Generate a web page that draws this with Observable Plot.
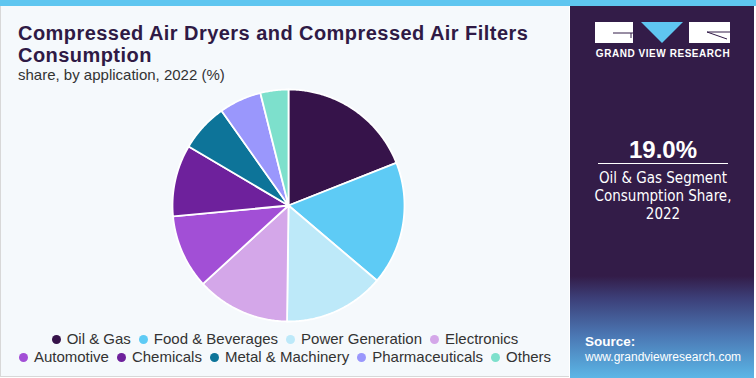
<!DOCTYPE html>
<html>
<head>
<meta charset="utf-8">
<script src="https://cdn.jsdelivr.net/npm/d3@7"></script>
<script src="https://cdn.jsdelivr.net/npm/@observablehq/plot@0.6"></script>
<style>
  html, body { margin: 0; padding: 0; }
  body { width: 756px; height: 378px; overflow: hidden; background: #fff; font-family: "Liberation Sans", Arial, sans-serif; }
  #wrap { position: relative; width: 756px; height: 378px; }
  #topbar { position: absolute; left: 0; top: 0; width: 756px; height: 6px; background: #5fc6f0; }
  #left { position: absolute; left: 0; top: 6px; width: 568px; height: 370px; background: #f5f9fc; border-left: 1px solid #d8d8d8; border-bottom: 1px solid #d8d8d8; }
  #right { position: absolute; left: 570px; top: 6px; width: 184px; height: 372px;
    background: linear-gradient(to bottom, #331c48 0px, #331c48 270px, #3c3f78 292px, #4b78b4 330px, #5bb6e6 372px); }
  #title { position: absolute; left: 18px; top: 22px; font-weight: bold; font-size: 20px; line-height: 22px; color: #2f1a45; letter-spacing: 0.45px; }
  #subtitle { position: absolute; left: 18px; top: 66px; font-size: 15px; color: #333; }
  #pie { position: absolute; left: 168px; top: 85px; }
  #legend { position: absolute; left: 0; top: 330px; width: 570px; font-size: 15px; color: #333; text-align: center; line-height: 18px; }
  .item { display: inline-block; margin: 0 4px; white-space: nowrap; }
  .dot { display: inline-block; width: 9px; height: 9px; border-radius: 50%; margin-right: 6px; vertical-align: 0px; }
  #stat { position: absolute; left: 570px; top: 136px; width: 186px; text-align: center; color: #fff; font-weight: bold; font-size: 24px; }
  #rule { position: absolute; left: 598px; top: 163px; width: 130px; height: 1px; background: #fff; }
  #desc { position: absolute; left: 570px; top: 169px; width: 186px; text-align: center; color: #fff; font-size: 15px; line-height: 18px; font-family: "Liberation Sans Narrow", "DejaVu Sans Condensed", sans-serif; font-stretch: condensed; }
  #source { position: absolute; left: 585px; top: 334px; color: #fff; font-size: 12px; line-height: 15px; }
  #logo { position: absolute; left: 595px; top: 22px; }
  #logotext { position: absolute; left: 570px; top: 48px; width: 186px; text-align: center; color: #fff; font-weight: bold; font-size: 10px; letter-spacing: 0.55px; }
</style>
</head>
<body>
<div id="wrap">
  <div id="topbar"></div>
  <div id="left"></div>
  <div id="right"></div>
  <div id="title">Compressed Air Dryers and Compressed Air Filters<br>Consumption</div>
  <div id="subtitle">share, by application, 2022 (%)</div>
  <div id="pie"></div>
  <div id="legend"></div>
  <svg id="logo" width="136" height="22" viewBox="0 0 136 22">
    <rect x="0" y="0" width="38" height="21" fill="#fff"/>
    <path d="M18 11 H38 M36 11 V16" stroke="#331c48" stroke-width="1" fill="none"/>
    <polygon points="46,0 88,0 67,21" fill="#5fc6f0"/>
    <rect x="94" y="0" width="41" height="21" fill="#fff"/>
    <path d="M112 10 H135 M112 10 L132 17" stroke="#331c48" stroke-width="1" fill="none"/>
  </svg>
  <div id="logotext">GRAND VIEW RESEARCH</div>
  <div id="stat">19.0%</div>
  <div id="rule"></div>
  <div id="desc">Oil &amp; Gas Segment<br>Consumption Share,<br>2022</div>
  <div id="source"><b style="font-size:13.5px">Source:</b><br>www.grandviewresearch.com</div>
</div>
<script>
const categories = ["Oil & Gas", "Food & Beverages", "Power Generation", "Electronics", "Automotive", "Chemicals", "Metal & Machinery", "Pharmaceuticals", "Others"];
const shares = [19.0, 17.2, 14.0, 13.0, 10.3, 10.0, 6.7, 5.9, 3.9];
const colors = ["#36134a", "#5ecbf5", "#bde9f9", "#d4a7e9", "#a24fd6", "#6e219c", "#0d7499", "#9a97fc", "#7de0cc"];

const table = categories.map((c, i) => ({category: c, share: shares[i]}));
const arcs = d3.pie().value(d => d.share).sort(null)(table);
const pts = [];
for (const a of arcs) {
  const cat = a.data.category;
  pts.push({category: cat, x: 0, y: 0});
  const n = Math.max(2, Math.ceil((a.endAngle - a.startAngle) / 0.01));
  for (let k = 0; k <= n; k++) {
    const t = a.startAngle + (a.endAngle - a.startAngle) * k / n;
    pts.push({category: cat, x: Math.sin(t), y: Math.cos(t)});
  }
}
const S = 240, R = 116, half = (S / 2) / R;
const chart = Plot.plot({
  width: S, height: S,
  margin: 0,
  x: {domain: [-half, half], axis: null},
  y: {domain: [-half, half], axis: null},
  color: {domain: categories, range: colors},
  style: {background: "transparent"},
  marks: [
    Plot.line(pts, {x: "x", y: "y", z: "category", fill: "category", stroke: "#ffffff", strokeWidth: 1.8, curve: "linear-closed"})
  ]
});
document.getElementById("pie").appendChild(chart);

const legend = document.getElementById("legend");
const rows = [[0, 1, 2, 3], [4, 5, 6, 7, 8]];
rows.forEach(r => {
  const div = document.createElement("div");
  r.forEach(i => {
    const s = document.createElement("span");
    s.className = "item";
    s.innerHTML = `<span class="dot" style="background:${colors[i]}"></span>`;
    s.appendChild(document.createTextNode(categories[i]));
    div.appendChild(s);
  });
  legend.appendChild(div);
});
</script>
</body>
</html>
